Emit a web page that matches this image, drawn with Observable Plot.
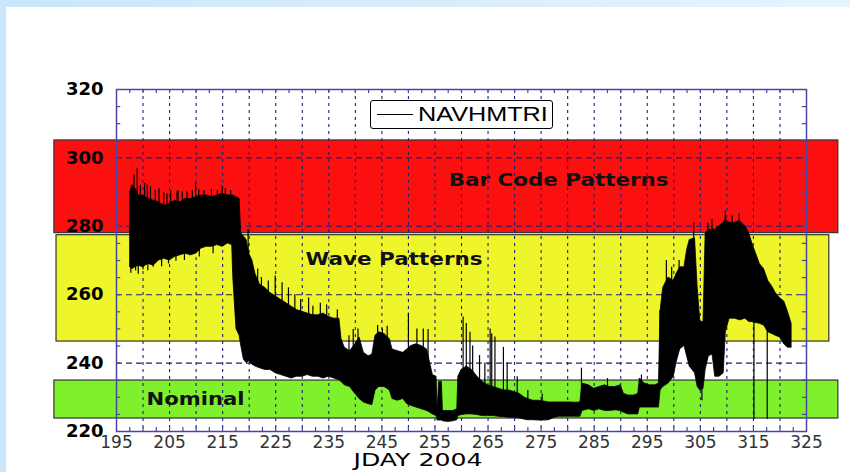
<!DOCTYPE html>
<html>
<head>
<meta charset="utf-8">
<script src="https://cdn.jsdelivr.net/npm/d3@7"></script>
<script src="https://cdn.jsdelivr.net/npm/@observablehq/plot@0.6"></script>
<style>
  html, body { margin: 0; padding: 0; background: #fff; }
  #wrap { position: relative; width: 850px; height: 472px; overflow: hidden;
          background: linear-gradient(90deg, #c9e6fb, #e6f4fd); }
  #panel { position: absolute; left: 6px; top: 7px; right: 0; bottom: 0; background: #fff; }
  #chart { position: absolute; left: 0; top: 0; }
  #legend { position: absolute; left: 370px; top: 100px; width: 181px; height: 27px;
            border: 1.5px solid #000; border-radius: 3px; background: #fff; }
  #legend .ln { position: absolute; left: 6px; top: 13px; width: 36px; height: 1.3px; background: #000; }
  #legend .tx { position: absolute; left: 47px; top: 1px; font: 21px "Liberation Sans", Arial, sans-serif;
                color: #000; transform: scaleX(1.2); transform-origin: left center; white-space: nowrap; }
</style>
</head>
<body>
<div id="wrap">
  <div id="panel"></div>
  <div id="chart"></div>
  <div id="legend"><div class="ln"></div><div class="tx">NAVHMTRI</div></div>
</div>
<script>
// ---- data (NAVHMTRI envelope, JDAY 2004) ----
const day = [197.6,198.0,198.6,199.2,200.0,201.0,202.0,203.0,204.0,205.0,206.0,207.0,208.0,209.0,210.0,211.0,212.0,213.0,214.0,215.0,216.0,216.8,
  217.0,217.6,218.2,218.5,219.0,219.5,220.0,220.6,221.2,222.0,223.0,224.0,225.0,226.0,227.0,228.0,229.0,230.0,231.0,232.0,233.0,234.0,235.0,236.0,
  237.0,237.4,238.0,239.0,240.0,240.8,241.6,242.5,243.2,243.8,244.5,245.5,246.5,247.0,248.0,249.0,249.8,250.5,251.5,252.5,253.5,254.1,254.6,255.3,
  255.5,255.8,256.3,256.5,257.5,258.5,259.2,259.4,260.0,261.0,262.0,263.0,264.0,265.0,266.0,267.0,268.0,269.0,270.0,271.0,271.8,272.5,273.5,274.5,
  275.5,276.5,277.5,278.5,279.5,280.5,281.5,282.4,282.8,284.0,285.0,286.0,287.0,288.0,289.0,290.0,290.6,291.5,292.5,293.3,293.6,294.5,295.5,296.5,
  297.2,297.5,298.0,299.0,300.0,300.5,301.2,302.0,302.5,303.0,304.0,304.5,305.0,305.6,306.0,306.6,307.3,307.8,308.6,309.4,309.8,310.5,311.5,312.5,
  313.5,314.2,314.8,315.5,316.2,317.0,317.8,318.5,319.2,320.0,320.8,321.5,322.2];
const lo = [268,267.5,268,268.5,268,269,268.5,270,270.5,270,271,271.5,272,271.5,272,273.5,274,274,274.5,274,275,274.5,
  265,250,248,245,241,240,240.5,239.5,239,238.5,238,238,237,236.5,236,235.5,236,236,236.5,236,236,235.5,236,235.5,
  235,234.5,233.5,233,231,229.5,228.5,228,227.7,232,233,233,232,229.5,229,229.5,228,227.5,227,226.5,226,225.5,225,224.5,
  223.2,223.2,223.2,223,222.8,223,223.3,224.5,224.8,225,225,224.8,224.5,224.5,224.5,224.3,224.2,224,224,223.8,223.5,223.3,223.3,223.2,
  223.2,223.3,224,224.3,224.3,224.3,224.3,224.3,226,226.5,226,226.5,226,226,226.2,226,225.5,225,225,225,227,227,227,227,
  227,232,233,234,236,240,244,245,242,239,237,233,232,232.5,238,242,242.5,236,236,237,249,253,253,252.5,
  253,252,252,251.7,251.5,251,249,248.5,248,247.5,245.5,244.5,244.5];
const hi = [290,292,291,289,289,288,287.5,287,286,286.5,287.5,287,288,288,288.5,289,289,288.5,289,289.5,289,289,
  289,288.5,288,278,277,276,272,270,266,263,262,260.5,259.5,258.5,257.5,256.5,255.5,255,254.5,254,254,254.5,253.5,253,
  253,247,244.5,243.5,245.5,247.5,243,242,242.5,248,249,248.5,247,244,243.5,243,244,245,245.5,245,244,240,236.5,236,
  226,234.5,234.5,226,226,226,226.5,236,238,239,238,236,234.5,233.5,233,232.5,232,232,231.5,231,230,229.5,229,229,
  228.8,228.5,228.5,228.5,228.5,228.5,228.4,228.5,234,233.5,232.5,233,233.5,233,233,233.5,231,230.5,230.5,231,235.5,234,233.5,233.5,
  234,255,262,265,264,266,268,268,273,276,276.5,262,252,252,278,279,279,279,280,281,282,281,281,281.5,
  280,278,275,272,269,267.5,264,262.5,260.5,259,258,255,251.5];

// thin spikes standing out of the envelope
const spikeDay = [198.3,198.9,199.5,200.3,200.8,201.4,202.3,203.0,203.9,204.5,205.2,206.4,206.6,207.4,208.3,209.3,209.9,210.5,211.5,212.9,214.0,214.9,215.5,216.5,
  197.7,198.6,199.1,200.0,200.9,201.9,203.5,204.8,206.2,207.8,210.6,213.2,
  219.8,221.6,222.3,223.6,224.9,226.2,227.4,228.6,229.7,231.2,232.0,233.4,234.6,236.6,238.8,239.6,240.5,244.2,245.1,246.0,250.0,251.6,252.8,253.7,
  260.3,260.9,261.6,262.1,263.4,264.4,265.4,265.7,266.3,267.9,268.6,270.5,272.5,275.2,282.6,287.5,293.9,297.4,
  298.6,299.6,301.0,303.75,306.4,307.2,309.7,311.0,312.3,315.1,317.6,305.3];
const spikeLo = [285,285,285,285,285,285,284,285,284,284,284,285,285,285,285,286,286,286,286,286,286,286,286,286,
  272,272,272,272,272,272,273,274,274,275,276,277,
  260,255,255,255,250,250,250,250,250,250,250,250,250,240,238,238,238,240,240,240,240,240,240,238,
  230,230,230,230,230,230,230,230,230,230,228,227,226,226,227,230,230,232,
  255,255,258,270,270,270,275,275,276,223.5,223.5,229];
const spikeHi = [295,297,292,292.5,292,291.5,290.5,291,289.8,289.5,290.5,290,290.5,290,290,290.5,292.7,290.7,290.5,290.8,290.5,291.7,291,290.5,
  266.3,267,266,267.3,267,268,268.2,269,269.8,270,271,272,
  279,267.5,265,264,265.5,263.5,262,260,258.6,259,256.6,257.5,257,255.5,248,249.8,250,251,250,250.8,254.6,250,250,249.8,
  253.5,251.6,249,245,242.2,240,250,248.5,247.6,244.6,240,236,232,231,238.5,235.5,236.5,255.4,
  270,268,270,281,281,282,284.4,283,283.5,252,250,234];

// status bands
const bandName  = ["Bar Code Patterns", "Wave Patterns", "Nominal"];
const bandLo    = [278.0, 246.3, 223.8];
const bandHi    = [305.1, 277.4, 234.9];
const bandStart = [183.3, 183.7, 183.3];
const bandEnd   = [331.0, 329.3, 331.0];
const labelDay   = [278.3, 247.3, 209.9];
const labelValue = [293.4, 270.3, 229.4];

const xTickLabels = [195,205,215,225,235,245,255,265,275,285,295,305,315,325];
const yTickLabels = [220,240,260,280,300,320];

// ---- build ----
const bandColor = {"Bar Code Patterns": "#fc0f0f", "Wave Patterns": "#eef52b", "Nominal": "#7ef12c"};
const env = day.map((d, i) => ({day: d, lo: lo[i], hi: hi[i]}));
const spikes = spikeDay.map((d, i) => ({day: d, lo: spikeLo[i], hi: spikeHi[i]}));
const bands = bandName.map((n, i) => ({name: n, lo: bandLo[i], hi: bandHi[i], x1: bandStart[i], x2: bandEnd[i],
  lx: labelDay[i], ly: labelValue[i]}));

const frameColor = "#4848a4";
const gridColor = "#1f1f75";

const plot = Plot.plot({
  width: 850, height: 472,
  marginLeft: 116, marginRight: 44, marginTop: 89, marginBottom: 41,
  x: {domain: [195, 325], axis: null},
  y: {domain: [220, 320], axis: null},
  style: {background: "transparent", fontFamily: "DejaVu Sans, sans-serif", overflow: "visible"},
  marks: [
    Plot.rect(bands, {x1: "x1", x2: "x2", y1: "lo", y2: "hi", fill: d => bandColor[d.name], stroke: "#333", strokeWidth: 1.2}),
    Plot.ruleX(d3.range(200, 325, 5), {stroke: gridColor, strokeWidth: 1.1, strokeDasharray: "3,4"}),
    Plot.ruleY([240, 260, 280, 300], {stroke: gridColor, strokeWidth: 1.1, strokeDasharray: "6,4"}),
    Plot.areaY(env, {x: "day", y1: "lo", y2: "hi", fill: "black", stroke: "black", strokeWidth: 0.8}),
    Plot.ruleX(spikes, {x: "day", y1: "lo", y2: "hi", stroke: "black", strokeWidth: 1.2}),
    Plot.frame({stroke: frameColor, strokeWidth: 1.5}),
    Plot.ruleX(d3.range(197.5, 325, 2.5), {y1: 220, y2: 221.2, stroke: frameColor, strokeWidth: 1.2}),
    Plot.ruleX(d3.range(197.5, 325, 2.5), {y1: 320, y2: 318.8, stroke: frameColor, strokeWidth: 1.2}),
    Plot.ruleY(d3.range(225, 320, 5), {x1: 195, x2: 195.8, stroke: frameColor, strokeWidth: 1.2}),
    Plot.ruleY(d3.range(225, 320, 5), {x1: 325, x2: 324.2, stroke: frameColor, strokeWidth: 1.2}),
    Plot.text(bands, {x: "lx", y: "ly", text: "name", fontSize: 17, fontWeight: "bold", fill: "#111"}),
    Plot.axisY(yTickLabels, {tickSize: 0, tickPadding: 13, fontSize: 18, fontWeight: "bold", fill: "black", label: null}),
    Plot.axisX(xTickLabels, {tickSize: 0, tickPadding: 4, fontSize: 17, fill: "#333", label: null}),
    Plot.text(["JDAY 2004"], {frameAnchor: "bottom", lineAnchor: "middle", dx: -43.5, dy: 29, fontSize: 17, fill: "#000"})
  ]
});
document.getElementById("chart").appendChild(plot);

// stretch the wide label texts to the reference widths
const widths = {"Bar Code Patterns": 220, "Wave Patterns": 177, "Nominal": 98, "JDAY 2004": 129};
plot.querySelectorAll("text").forEach(t => {
  const w = widths[t.textContent];
  if (w) { t.setAttribute("textLength", w); t.setAttribute("lengthAdjust", "spacingAndGlyphs"); }
});
</script>
</body>
</html>
